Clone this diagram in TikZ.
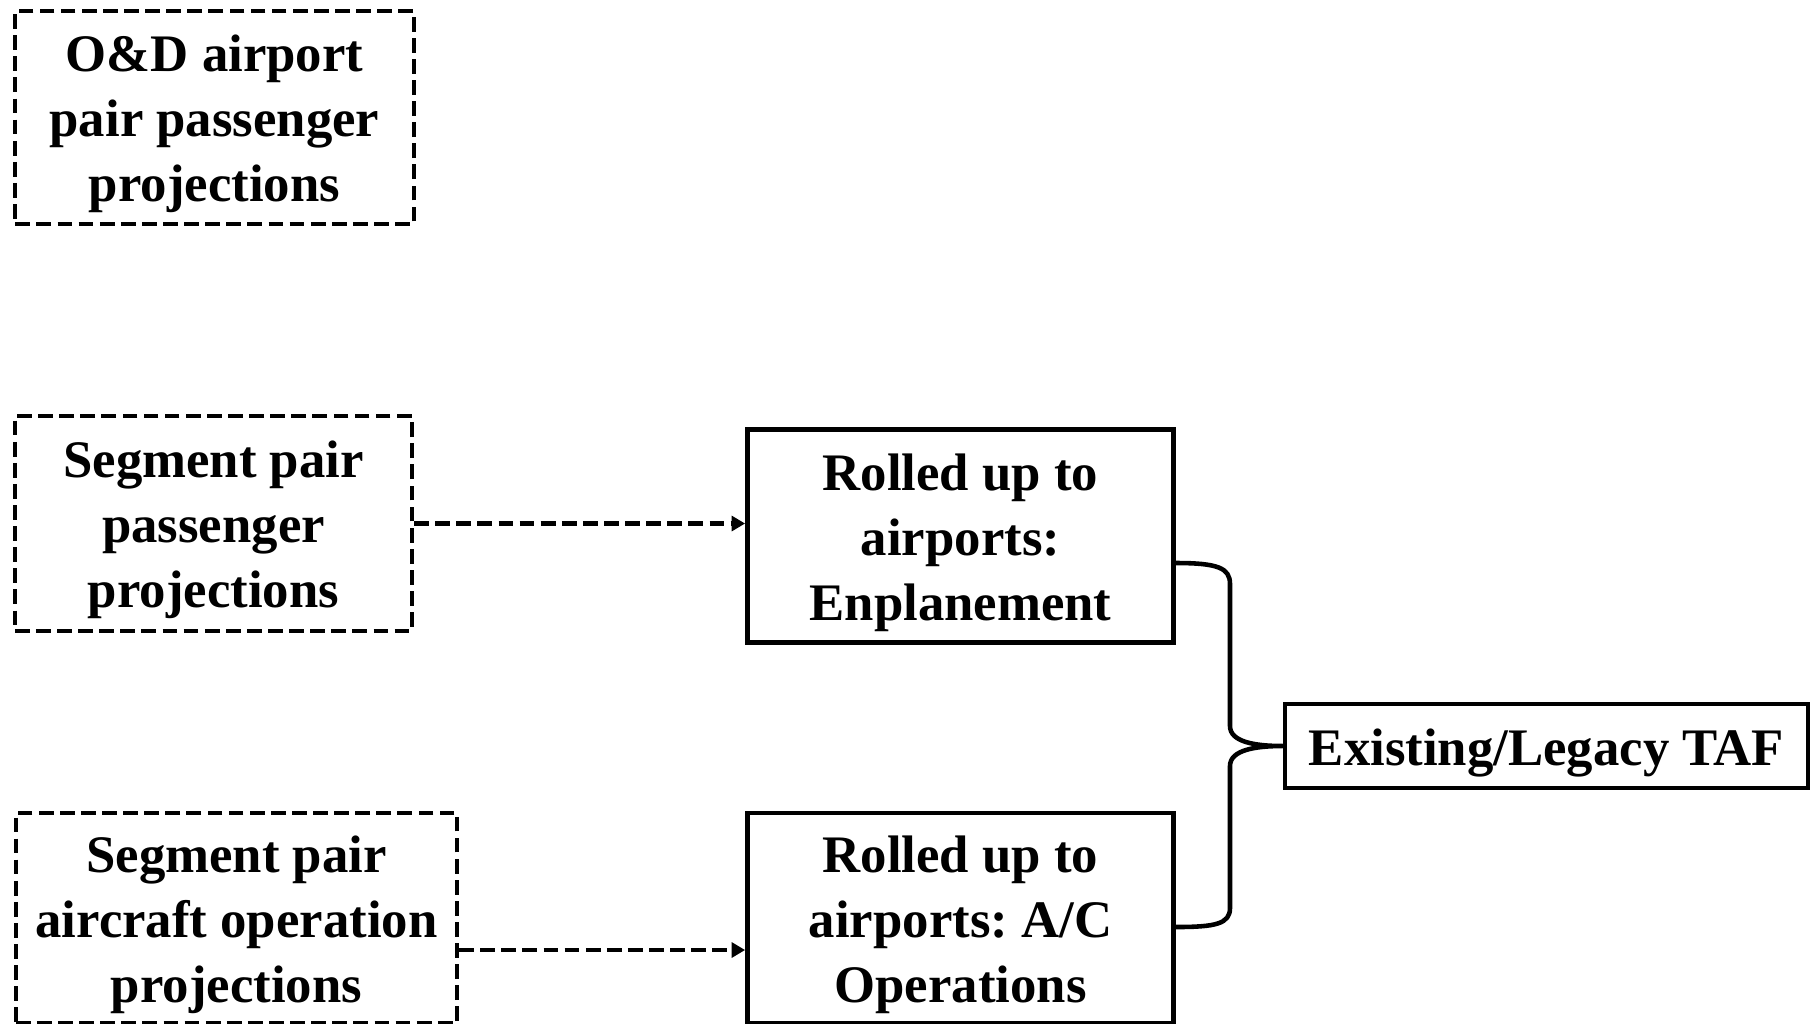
\documentclass[tikz,border=0pt]{standalone}
\usepackage{fontspec}
\setmainfont{Liberation Serif}
\usetikzlibrary{arrows.meta,calc}
% even top margin above the first line of every box
\newcommand\boxstrut{\rule{0pt}{14.2pt}}
\begin{document}
\frenchspacing
\begin{tikzpicture}[x=0.01cm,y=-0.01cm,
  txt/.style={font=\fontsize{15}{18.5}\selectfont\bfseries, align=center, inner sep=0pt},
  dashbox/.style={txt, draw, line width=1.15pt, dash pattern=on 4.2pt off 1.8pt},
  solidbox/.style={txt, draw, line width=1.3pt},
  flow/.style={line width=1.15pt, dash pattern=on 4.2pt off 1.8pt, -{Triangle[length=3.8pt,width=4.2pt]}},
  joint/.style={line width=1.3pt, line join=round}]
\useasboundingbox (0,0) rectangle (1815,1023);

% input projections (dashed)
\node[dashbox, minimum width=3.98cm, minimum height=2.13cm] (od) at (214.5,117.5)
  {\boxstrut O\&D airport\\pair passenger\\projections};
\node[dashbox, minimum width=3.97cm, minimum height=2.14cm] (seg1) at (213.5,523.5)
  {\boxstrut Segment pair\\passenger\\projections};
\node[dashbox, minimum width=4.41cm, minimum height=2.10cm] (seg2) at (236.5,918)
  {\boxstrut Segment pair\\aircraft operation\\projections};

% airport roll-ups
\node[solidbox, minimum width=4.26cm, minimum height=2.13cm] (enp) at (960.5,536)
  {\boxstrut Rolled up to\\airports:\\Enplanement};
\node[solidbox, minimum width=4.26cm, minimum height=2.10cm] (ops) at (960.5,918)
  {\boxstrut Rolled up to\\airports: A/C\\Operations};

% result
\node[solidbox, minimum width=5.23cm, minimum height=0.84cm] (taf) at (1546.5,746)
  {\boxstrut Existing/Legacy TAF};

% dashed feeds
\draw[flow] (seg1.east) -- (seg1.east -| enp.west);
\draw[flow] ($(seg2.east)+(0,32)$) coordinate (s2out) -- (s2out -| ops.west);

% brace joining both roll-ups into the TAF
\coordinate (etop) at ($(enp.east)+(0,27)$);
\coordinate (obot) at ($(ops.east)+(0,9)$);
\draw[joint] (etop) .. controls +(42,0) and (1230,568) .. (1230,584)
  -- (1230,726) .. controls (1230,742) and (1255,746) .. (taf.west)
  .. controls (1255,746) and (1230,750) .. (1230,766)
  -- (1230,908) .. controls (1230,924) and (1215,927) .. (obot);
\end{tikzpicture}
\end{document}
